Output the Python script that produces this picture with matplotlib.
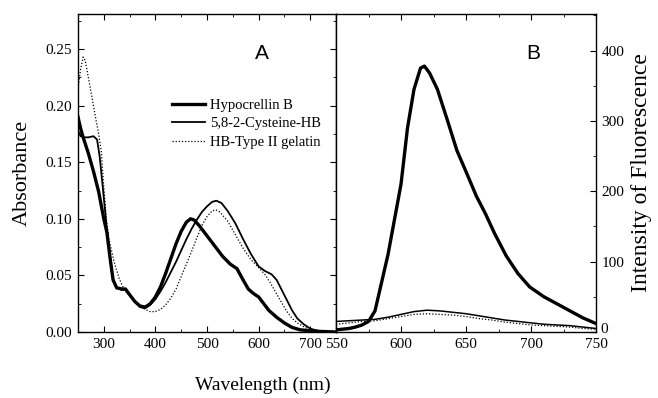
import matplotlib
matplotlib.use("Agg")
import matplotlib.pyplot as plt
from matplotlib.ticker import MultipleLocator

plt.rcParams["font.family"] = ["Liberation Serif", "DejaVu Serif"]

# Panel A: absorbance spectra
hb_abs_x = [250, 255, 260, 270, 280, 290, 300, 306, 312, 318, 325, 335, 342, 350, 360, 370, 380,
            390, 400, 410, 420, 430, 440, 450, 460, 468, 475, 485, 500, 515, 530, 545, 558, 570,
            580, 590, 600, 610, 620, 635, 650, 665, 680, 700, 720, 750]
hb_abs_y = [0.190, 0.180, 0.172, 0.158, 0.142, 0.124, 0.100, 0.088, 0.066, 0.046, 0.039, 0.038,
            0.038, 0.033, 0.027, 0.023, 0.022, 0.025, 0.031, 0.040, 0.052, 0.065, 0.078, 0.089,
            0.097, 0.100, 0.099, 0.094, 0.085, 0.076, 0.067, 0.060, 0.056, 0.046, 0.038, 0.034,
            0.031, 0.025, 0.019, 0.013, 0.008, 0.004, 0.002, 0.001, 0.0005, 0.0]

cys_abs_x = [250, 255, 262, 270, 280, 287, 292, 298, 305, 312, 318, 324, 335, 342, 350, 360, 370,
             380, 390, 400, 410, 420, 430, 440, 450, 460, 470, 480, 490, 500, 510, 518, 528, 540,
             555, 570, 585, 600, 612, 625, 635, 645, 655, 665, 675, 687, 700, 715, 750]
cys_abs_y = [0.178, 0.173, 0.172, 0.172, 0.173, 0.170, 0.155, 0.128, 0.095, 0.065, 0.047, 0.040,
             0.037, 0.038, 0.033, 0.027, 0.022, 0.021, 0.024, 0.029, 0.036, 0.044, 0.053, 0.062,
             0.072, 0.082, 0.091, 0.099, 0.106, 0.111, 0.115, 0.116, 0.114, 0.107, 0.096, 0.082,
             0.069, 0.058, 0.054, 0.051, 0.046, 0.037, 0.028, 0.019, 0.012, 0.007, 0.003, 0.001, 0.0]

gel_abs_x = [250, 255, 260, 264, 270, 278, 285, 290, 295, 300, 305, 310, 320, 330, 340, 350, 360,
             370, 380, 390, 400, 410, 420, 430, 440, 450, 460, 470, 480, 490, 500, 510, 517, 525,
             540, 555, 570, 585, 600, 612, 622, 632, 642, 655, 665, 675, 690, 705, 750]
gel_abs_y = [0.215, 0.232, 0.243, 0.240, 0.225, 0.205, 0.187, 0.175, 0.160, 0.128, 0.100, 0.082,
             0.062, 0.047, 0.037, 0.032, 0.027, 0.023, 0.020, 0.018, 0.018, 0.020, 0.024, 0.030,
             0.038, 0.049, 0.060, 0.071, 0.083, 0.094, 0.102, 0.107, 0.108, 0.106, 0.098, 0.086,
             0.074, 0.064, 0.057, 0.051, 0.044, 0.036, 0.028, 0.018, 0.012, 0.008, 0.004, 0.001, 0.0]

# Panel B: fluorescence spectra
hb_fl_x = [550, 555, 560, 565, 570, 575, 580, 585, 590, 595, 600, 605, 610, 615, 618, 622, 628,
           635, 643, 650, 658, 665, 672, 681, 690, 699, 710, 720, 730, 740, 750]
hb_fl_y = [3, 4, 5, 7, 10, 15, 30, 70, 110, 160, 210, 290, 345, 375, 378, 368, 345, 305, 258,
           228, 193, 168, 140, 108, 83, 64, 50, 40, 30, 20, 12]

cys_fl_x = [550, 560, 570, 580, 590, 600, 610, 620, 630, 640, 650, 660, 670, 680, 690, 700, 710,
            720, 730, 740, 750]
cys_fl_y = [15, 16, 17, 18, 21, 25, 29, 31, 30, 28, 26, 23, 20, 17, 15, 13, 11, 10, 9, 7, 5]

gel_fl_x = [550, 560, 570, 580, 590, 600, 610, 620, 630, 640, 650, 660, 670, 680, 690, 700, 710,
            720, 730, 740, 750]
gel_fl_y = [11, 13, 15, 16, 19, 22, 25, 26, 25, 24, 22, 19, 17, 14, 12, 10, 9, 8, 7, 5, 4]

labels = ["Hypocrellin B", "5,8-2-Cysteine-HB", "HB-Type II gelatin"]
fl_ticks = [0, 100, 200, 300, 400]

W, H = 658, 398
fig = plt.figure(figsize=(W / 100, H / 100), dpi=100)
axA = fig.add_axes([78 / W, (H - 332) / H, (336 - 78) / W, (332 - 14) / H])
axB = fig.add_axes([336 / W, (H - 332) / H, (596 - 336) / W, (332 - 14) / H])

axA.plot(hb_abs_x, hb_abs_y, color="k", lw=2.4, label=labels[0])
axA.plot(cys_abs_x, cys_abs_y, color="k", lw=1.3, label=labels[1])
axA.plot(gel_abs_x, gel_abs_y, color="k", lw=0.9, ls=(0, (1, 1.5)), label=labels[2])

axB.plot(hb_fl_x, hb_fl_y, color="k", lw=2.4)
axB.plot(cys_fl_x, cys_fl_y, color="k", lw=1.1)
axB.plot(gel_fl_x, gel_fl_y, color="k", lw=0.9, ls=(0, (1, 1.5)))

axA.set_xlim(250, 750)
axA.set_ylim(0, 0.281)
axA.xaxis.set_minor_locator(MultipleLocator(50))
axA.yaxis.set_minor_locator(MultipleLocator(0.025))
axA.set_xticks([300, 400, 500, 600, 700])
axA.set_xticklabels(["300", "400", "500", "600", "700"])
axA.set_yticks([0.0, 0.05, 0.10, 0.15, 0.20, 0.25])
axA.set_yticklabels(["0.00", "0.05", "0.10", "0.15", "0.20", "0.25"])
axA.tick_params(which="both", direction="in", top=True, right=True, labelsize=11, pad=4)
axA.tick_params(which="major", length=4.5)
axA.tick_params(which="minor", length=2.5)
axA.set_ylabel("Absorbance", fontsize=16, labelpad=10)

axB.set_xlim(550, 750)
axB.set_ylim(0, 452)
axB.xaxis.set_major_locator(MultipleLocator(50))
axB.xaxis.set_minor_locator(MultipleLocator(25))
axB.yaxis.set_minor_locator(MultipleLocator(50))
axB.set_yticks(fl_ticks)
# the zero label is drawn separately, lifted a bit above the 750 label
axB.set_yticklabels([""] + [str(t) for t in fl_ticks[1:]])
axB.yaxis.tick_right()
axB.yaxis.set_label_position("right")
axB.tick_params(which="both", direction="in", top=True, left=False, right=True,
                labelsize=11, pad=4)
axB.tick_params(which="major", length=4.5)
axB.tick_params(which="minor", length=2.5)
axB.set_ylabel("Intensity of Fluorescence", fontsize=17, labelpad=5)
axB.annotate(str(fl_ticks[0]), xy=(1, 0), xycoords="axes fraction", xytext=(3, 1.5),
             textcoords="offset points", ha="left", va="center", fontsize=11)

for ax in (axA, axB):
    for s in ax.spines.values():
        s.set_linewidth(1.0)

axA.legend(loc="upper left", bbox_to_anchor=(0.341, 0.752), frameon=False, fontsize=10.5,
           handlelength=2.3, handletextpad=0.3, labelspacing=0.36, borderaxespad=0)

axA.text(0.713, 0.877, "A", transform=axA.transAxes, fontsize=15, family="Liberation Sans",
         ha="center", va="center")
axB.text(0.758, 0.877, "B", transform=axB.transAxes, fontsize=15, family="Liberation Sans",
         ha="center", va="center")

fig.text(263 / W, 1 - 385 / H, "Wavelength (nm)", fontsize=14, ha="center", va="center")

fig.savefig("out.png", dpi=100)
